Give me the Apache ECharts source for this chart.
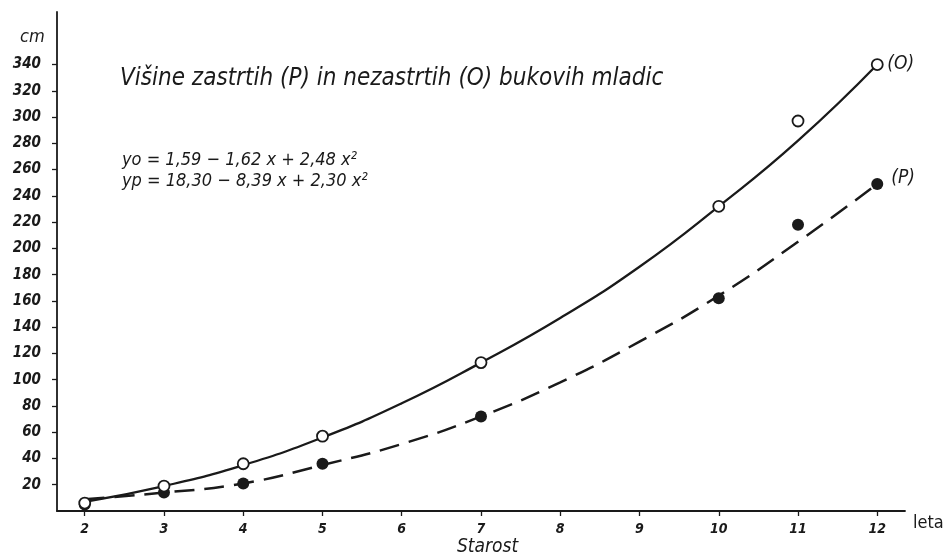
<!DOCTYPE html>
<html>
<head>
<meta charset="utf-8">
<script src="https://cdn.jsdelivr.net/npm/echarts@6/dist/echarts.min.js"></script>
<style>html,body{margin:0;padding:0;background:#fff}#c{width:949px;height:553px}</style>
</head>
<body>
<div id="c"></div>
<script>
// ---- data ----
var ages = [2, 3, 4, 5, 7, 10, 11, 12];
var heightO = [6, 19, 36, 57, 113, 232, 297, 340];   // open circles (O)
var heightP = [5, 14, 21, 36, 72, 162, 218, 249];    // filled circles (P)

var curveX = [2, 3, 4, 5, 6, 7, 8, 9, 10, 11, 12];
var curveO = [7, 19, 35, 56, 82, 113, 147, 186, 232, 282, 340];   // solid fitted curve
var curveP = [9, 14, 21, 35, 51, 72, 98, 129, 164, 205, 249];     // dashed fitted curve

var xTicks = [2, 3, 4, 5, 6, 7, 8, 9, 10, 11, 12];
var yTicks = [20, 40, 60, 80, 100, 120, 140, 160, 180, 200, 220, 240, 260, 280, 300, 320, 340];

var titleText = 'Višine zastrtih (P) in nezastrtih (O) bukovih mladic';
var eqO = 'yo = 1,59 − 1,62 x + 2,48 x²';
var eqP = 'yp = 18,30 − 8,39 x + 2,30 x²';

function pairs(xs, ys) { return xs.map(function (x, i) { return [x, ys[i]]; }); }

var INK = '#1a1a1a';
var HAND = '"DejaVu Sans Condensed", "DejaVu Sans", sans-serif';

var chart = echarts.init(document.getElementById('c'), null, { renderer: 'canvas' });
chart.setOption({
  backgroundColor: '#ffffff',
  animation: false,
  grid: { left: 57, right: 44, top: 12, bottom: 42, containLabel: false },
  title: [
    { text: titleText, left: 115, top: 62, textStyle: { fontFamily: HAND, fontStyle: 'italic', fontWeight: 'normal', fontSize: 24, color: INK } },
    { text: eqO, left: 117, top: 146, textStyle: { fontFamily: HAND, fontStyle: 'italic', fontWeight: 'normal', fontSize: 18, color: INK } },
    { text: eqP, left: 117, top: 167, textStyle: { fontFamily: HAND, fontStyle: 'italic', fontWeight: 'normal', fontSize: 18, color: INK } },
    { text: 'cm', left: 15, top: 23, textStyle: { fontFamily: HAND, fontStyle: 'italic', fontWeight: 'normal', fontSize: 18, color: INK } },
    { text: 'Starost', left: 452, top: 533, textStyle: { fontFamily: HAND, fontStyle: 'italic', fontWeight: 'normal', fontSize: 19, color: INK } },
    { text: 'leta', left: 908, top: 509, textStyle: { fontFamily: HAND, fontWeight: 'normal', fontSize: 18, color: INK } }
  ],
  xAxis: {
    type: 'value', min: 1.65, max: 12.35,
    axisLine: { show: true, onZero: false, lineStyle: { color: INK, width: 1.8 } },
    axisTick: { show: true, length: 5, customValues: xTicks, lineStyle: { color: INK, width: 1.3 } },
    axisLabel: { customValues: xTicks, margin: 11, fontFamily: HAND, fontStyle: 'italic', fontWeight: 'bold', fontSize: 14, color: INK },
    splitLine: { show: false }
  },
  yAxis: {
    type: 'value', min: 0, max: 380,
    axisLine: { show: true, onZero: false, lineStyle: { color: INK, width: 1.8 } },
    axisTick: { show: true, length: 5, customValues: yTicks, lineStyle: { color: INK, width: 1.3 } },
    axisLabel: { customValues: yTicks, margin: 16, fontFamily: HAND, fontStyle: 'italic', fontWeight: 'bold', fontSize: 15, color: INK },
    splitLine: { show: false }
  },
  series: [
    {
      name: 'O curve', type: 'line', data: pairs(curveX, curveO), smooth: 0.5, symbol: 'none',
      lineStyle: { color: INK, width: 2.3 }, z: 2,
      endLabel: { show: true, formatter: '(O)', distance: 10, offset: [0, 0], fontFamily: HAND, fontStyle: 'italic', fontSize: 19, color: INK }
    },
    {
      name: 'P curve', type: 'line', data: pairs(curveX, curveP), smooth: 0.5, symbol: 'none',
      lineStyle: { color: INK, width: 2.5, type: [20, 10] }, z: 2,
      endLabel: { show: true, formatter: '(P)', distance: 14, offset: [0, -6], fontFamily: HAND, fontStyle: 'italic', fontSize: 19, color: INK }
    },
    {
      name: 'O', type: 'scatter', data: pairs(ages, heightO), symbol: 'circle', symbolSize: 11,
      itemStyle: { color: '#ffffff', borderColor: INK, borderWidth: 1.8, opacity: 1 }, z: 4
    },
    {
      name: 'P', type: 'scatter', data: pairs(ages, heightP), symbol: 'circle', symbolSize: 12,
      itemStyle: { color: INK, opacity: 1 }, z: 3
    }
  ]
});
</script>
</body>
</html>
